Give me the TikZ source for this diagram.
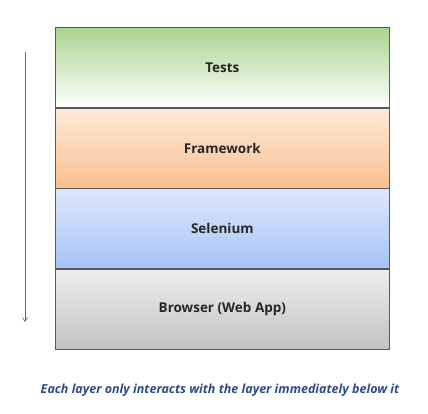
\documentclass[tikz,border=0pt]{standalone}
\usepackage{fontspec}
\setmainfont{Open Sans}
\usetikzlibrary{positioning,arrows.meta}
\definecolor{testtop}{HTML}{A9D38E}
\definecolor{frametop}{HTML}{FDEADA}
\definecolor{framebot}{HTML}{FAC08F}
\definecolor{seltop}{HTML}{DDE8FB}
\definecolor{selbot}{HTML}{A5C3F6}
\definecolor{browtop}{HTML}{EEEEEE}
\definecolor{browbot}{HTML}{C2C2C2}
\definecolor{captionblue}{HTML}{2E4A8C}
\tikzset{
    layer/.style={draw=gray!70!black, line width=0.7pt, minimum width=334pt,
        minimum height=80pt, inner sep=0pt, font=\fontsize{13.5}{16}\selectfont\bfseries,
        text=black!85},
}
\begin{document}
\begin{tikzpicture}[x=1pt, y=-1pt]
        \useasboundingbox (0, 0) rectangle (428, 414);
        \node[layer, top color=testtop, bottom color=white, anchor=north west]
            (tests) at (55, 27) {Tests};
        \node[layer, top color=frametop, bottom color=framebot, below=0pt of tests]
            (framework) {Framework};
        \node[layer, top color=seltop, bottom color=selbot, below=0pt of framework]
            (selenium) {Selenium};
        \node[layer, top color=browtop, bottom color=browbot, below=0pt of selenium]
            (browser) {Browser (Web App)};
        \coordinate (start) at (25, 52);
        \coordinate (end) at (25, 322);
        \draw[gray!80!black, line width=0.6pt, -{Straight Barb[length=4pt, width=5pt]}] (start) -- (end);
        \node[font=\fontsize{12.5}{15}\selectfont\bfseries\itshape, text=captionblue] (caption) at (220, 390)
            {Each layer only interacts with the layer immediately below it};
    \end{tikzpicture}
\end{document}
